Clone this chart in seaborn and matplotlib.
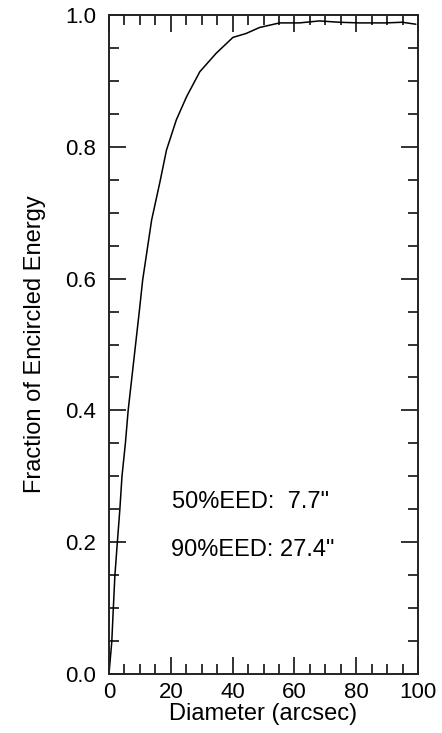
#!/usr/bin/env python3
# Encircled energy curve

import pandas as pd
import seaborn as sns
import matplotlib.pyplot as plt
from matplotlib.ticker import MultipleLocator, FormatStrFormatter

# values
diameter = [0, 0.9, 1.4, 1.9, 2.7, 3.5, 4.2, 5.3, 6.2, 7.4, 8.6, 9.8, 10.9,
            13.8, 16.5, 18.6, 21.8, 25.1, 29.4, 34.7, 40.1, 44.4, 48.7,
            55.2, 61.6, 68.1, 74.5, 81.0, 89.6, 94.9, 99.3]
fraction = [0.0, 0.049, 0.10, 0.149, 0.20, 0.249, 0.30, 0.35, 0.40, 0.45,
            0.50, 0.55, 0.598, 0.689, 0.747, 0.795, 0.841, 0.876, 0.914,
            0.942, 0.966, 0.972, 0.981, 0.988, 0.988, 0.991, 0.989, 0.988,
            0.988, 0.989, 0.986]
eed_labels = ['50%EED:  7.7"', '90%EED: 27.4"']


def plot_eed():
    sns.set_theme(style="ticks", rc={"text.color": "black",
                                     "axes.labelcolor": "black",
                                     "xtick.color": "black",
                                     "ytick.color": "black"})
    plt.rcParams['font.family'] = ['Liberation Sans', 'DejaVu Sans']

    fig = plt.figure(figsize=(4.42, 7.33), dpi=100)
    ax = fig.add_axes([109 / 442, 59 / 733, 309 / 442, 659 / 733])

    data = pd.DataFrame({"diameter": diameter, "fraction": fraction})
    sns.lineplot(x="diameter", y="fraction", data=data, color="black",
                 linewidth=1.1, estimator=None, sort=False, ax=ax)

    ax.set_xlim(0, 100)
    ax.set_ylim(0, 1)
    ax.xaxis.set_major_locator(MultipleLocator(20))
    ax.xaxis.set_minor_locator(MultipleLocator(5))
    ax.yaxis.set_major_locator(MultipleLocator(0.2))
    ax.yaxis.set_minor_locator(MultipleLocator(0.05))
    ax.yaxis.set_major_formatter(FormatStrFormatter('%.1f'))

    ax.tick_params(which="both", direction="in", top=True, right=True,
                   color="#222222", width=1.3)
    ax.tick_params(which="major", length=12, labelsize=16)
    ax.tick_params(which="minor", length=7)
    ax.tick_params(axis="x", which="major", pad=6)
    ax.tick_params(axis="y", which="major", pad=9)
    for s in ax.spines.values():
        s.set_linewidth(1.4)
        s.set_color("#222222")

    ax.set_xlabel("Diameter (arcsec)", fontsize=17, labelpad=0)
    ax.set_ylabel("Fraction of Encircled Energy", fontsize=17, labelpad=14)

    ax.text(20.3, 0.261, eed_labels[0], fontsize=17, va="center", ha="left")
    ax.text(20.0, 0.188, eed_labels[1], fontsize=17, va="center", ha="left")
    return fig


if __name__ == '__main__':
    fig = plot_eed()
    fig.savefig("out.png", dpi=100)
